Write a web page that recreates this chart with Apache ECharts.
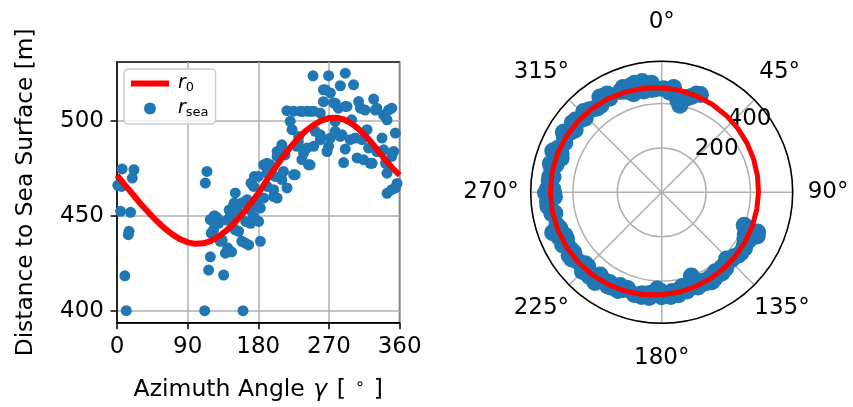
<!DOCTYPE html>
<html>
<head>
<meta charset="utf-8">
<script src="https://cdn.jsdelivr.net/npm/echarts@6/dist/echarts.min.js"></script>
<style>
html,body{margin:0;padding:0;background:#fff;}
#c{width:853px;height:407px;}
</style>
</head>
<body>
<div id="c"></div>
<script>
// ---- data ----
// sea-surface distance samples: azimuth angle (deg) and distance (m)
const seaAzimuth = [
  1, 4.6, 5.9, 6.5, 10, 11.8, 14.4, 15.3, 17.3, 19.5, 21.6,
  111.7, 112.5, 114.6, 116.7, 118.9, 121, 118.8, 127.3, 123, 129.5, 131.6, 134, 135.8, 138, 140, 141, 144.4, 146, 124, 124, 120, 143, 149.5,
  150.7, 153, 155, 155, 159, 159, 160.5, 163.4, 165.6, 167.7, 170, 170, 170.7, 174, 174, 175, 178.4, 180.4, 182.6, 180, 182.6, 186.8, 186.8, 191, 191, 191, 195, 199.5, 199.5, 148.6, 144, 150.7, 164,
  201.6, 204, 204, 204, 208, 210, 210, 212, 214, 216.5, 216.6, 220.7, 223, 225, 225, 227, 229, 231, 231.4, 233.5, 235.6, 235.7, 237.7, 242, 242, 244, 246, 246.3, 249.7, 250.5, 250.5, 252.6, 259, 259, 259,
  263, 263, 265.4, 267.5, 269.6, 269.6, 271.7, 271.8, 276, 278, 278, 278, 282, 284.5, 284.5, 286.6, 288.7, 290.8, 290.8, 290.8, 293, 297, 299,
  301.4, 303.6, 305.8, 307.8, 310, 312, 314, 316, 318.5, 320.5, 322.7, 325, 327, 329, 331, 331, 337.6, 339.7, 339.7, 342, 344, 344, 344, 346, 350, 350, 350, 352.4, 354.6, 354.6, 356.7
];
const seaDistance = [
  466, 452.3, 465.4, 474.6, 418.4, 400, 440, 441.8, 451.8, 469.8, 474.2,
  400, 467.2, 473.3, 421.4, 428.4, 440.7, 448, 449, 442.6, 446, 436.5, 437.2, 418.8, 430.3, 447.7, 433, 451.4, 431, 450, 446, 440.8, 453, 456.7,
  462, 455, 451.4, 441.8, 456.7, 436.5, 400, 435.6, 458.4, 434.6, 453, 446, 467.2, 449.6, 465.4, 470.7, 456.7, 447, 436.5, 470.7, 454, 459.3, 476.8, 465.4, 472.4, 477.6, 476.8, 460.1, 463.7, 455.8, 448, 442.6, 447,
  470.7, 481.2, 483.8, 459.3, 484.7, 487.3, 469, 473.3, 482, 505.3, 464.6, 499.7, 495.3, 471.6, 505, 471.6, 486.5, 489, 491.7, 505, 479.5, 504.9, 483, 485.6, 505, 476.8, 476.8, 504.9, 523.6, 486.5, 505, 494.4, 504, 490, 492.6,
  516.3, 510, 516.3, 483.8, 523.7, 486.5, 490.8, 514.6, 509.3, 499.6, 494.4, 509.2, 506.6, 518.4, 491.7, 492.6, 478, 525, 507.5, 485.1, 507.5, 490, 500.5,
  518.9, 490.9, 480.4, 510.1, 506.6, 490, 479.5, 505.6, 495.3, 485.6, 477.6, 477.6, 511.4, 505.6, 483.8, 506.6, 490.9, 503, 484.7, 477.6, 472.4, 461.8, 500.5, 505.6, 506.6, 481.2, 463.7, 483.8, 493.5, 464.6, 467
];
// fitted r0 curve read at every 10 degrees
const curveAzimuth = [0,10,20,30,40,50,60,70,80,90,100,110,120,130,140,150,160,170,180,190,200,210,220,230,240,250,260,270,280,290,300,310,320,330,340,350,360];
const curveR0 = [471.3,466.2,461.3,456.3,451.8,447.5,443.6,440.3,437.7,436,435.2,435.5,436.8,439.2,442.4,446.4,451,456.3,461.8,468.2,474.3,480.2,485.6,490.4,494.5,497.6,500,501.4,501.6,500.5,498.2,494.8,490.6,485.6,480.3,475.5,471.3];
// tick labels
const xTicks = [0, 90, 180, 270, 360];
const yTicks = [400, 450, 500];
const radialLabels = [200, 400];

const FONT = 'DejaVu Sans';
const GRID = '#b0b0b0';
const BLUE = '#1f77b4';
const RED = '#ff0000';

const seaPairs = seaAzimuth.map((g, i) => [g, seaDistance[i]]);
const seaPolar = seaAzimuth.map((g, i) => [seaDistance[i], g]);
const curvePairs = curveAzimuth.map((g, i) => [g, curveR0[i]]);
const curvePolar = curveAzimuth.map((g, i) => [curveR0[i], g]);

const chart = echarts.init(document.getElementById('c'), null, {renderer: 'canvas'});
const polarCenter = [661.7, 192.3];
const polarR = 131;
const rayAng = 42.2 * Math.PI / 180;
const shift = 27;
const polar2Center = [polarCenter[0] + shift * Math.cos(rayAng) + 2, polarCenter[1] - shift * Math.sin(rayAng) + 5];

// per-label padding so that the angle labels sit centred on a ring like matplotlib
const angRich = {};
const angPad = {0: [0,0,28,0], 45: [0,0,16,5], 90: [0,0,0,15], 135: [12,0,0,0], 180: [23,0,0,0], 225: [12,0,0,0], 270: [0,12,0,0], 315: [0,0,16,0]};
Object.keys(angPad).forEach(k => {
  angRich['p' + k] = {fontSize: 23, fontFamily: FONT, color: '#000', padding: angPad[k]};
});

chart.setOption({
  animation: false,
  textStyle: {fontFamily: FONT},
  grid: {left: 117, top: 62, width: 282.6, height: 260.7, show: true, borderColor: '#000', borderWidth: 1.5, containLabel: false},
  legend: {
    orient: 'vertical', left: 124, top: 69,
    itemWidth: 38, itemHeight: 12, itemGap: 5,
    padding: [5, 7, 5, 4],
    borderColor: '#cccccc', borderWidth: 1.5, borderRadius: 4,
    backgroundColor: 'rgba(255,255,255,0.8)',
    data: [
      {name: 'r0', itemStyle: {color: 'rgba(0,0,0,0)', borderColor: 'rgba(0,0,0,0)', borderWidth: 0}, lineStyle: {color: RED, width: 6}},
      {name: 'rsea'}
    ],
    formatter: n => n === 'r0' ? '{i|r}{s|0}' : '{i|r}{s|sea}',
    textStyle: {
      fontFamily: FONT, color: '#000', fontSize: 19,
      rich: {
        i: {fontFamily: FONT, fontStyle: 'italic', fontSize: 19, color: '#000', padding: [0, 0, 0, 4]},
        s: {fontFamily: FONT, fontSize: 13, color: '#000', padding: [8, 0, 0, 0]}
      }
    }
  },
  xAxis: {
    type: 'value', min: 0, max: 360, interval: 90,
    axisLine: {lineStyle: {color: '#000', width: 1.5}},
    axisTick: {show: true, inside: false, length: 6.5, lineStyle: {color: '#000', width: 1.5}, customValues: xTicks},
    axisLabel: {color: '#000', fontSize: 23, fontFamily: FONT, margin: 13, customValues: xTicks},
    splitLine: {show: true, lineStyle: {color: GRID, width: 1.5}},
    name: '{a|Azimuth Angle }{g|γ}{a| [}{d|∘}{a|]}',
    nameLocation: 'middle', nameGap: 54,
    nameTextStyle: {
      color: '#000', fontSize: 23.5, fontFamily: FONT,
      rich: {
        a: {fontSize: 23.5, fontFamily: FONT, color: '#000'},
        g: {fontSize: 23.5, fontFamily: FONT, fontStyle: 'italic', color: '#000', padding: [0, 2, 0, 1]},
        d: {fontSize: 16, fontFamily: FONT, color: '#000', padding: [0, 9, 10, 9]}
      }
    }
  },
  yAxis: {
    type: 'value', min: 393.7, max: 530.9, splitNumber: 3,
    axisLine: {lineStyle: {color: '#000', width: 1.5}},
    axisTick: {show: true, inside: false, length: 6.5, lineStyle: {color: '#000', width: 1.5}, customValues: yTicks},
    axisLabel: {color: '#000', fontSize: 23, fontFamily: FONT, margin: 13, customValues: yTicks},
    splitLine: {show: true, lineStyle: {color: GRID, width: 1.5}},
    name: 'Distance to Sea Surface [m]',
    nameLocation: 'middle', nameGap: 80,
    nameTextStyle: {color: '#000', fontSize: 23.3, fontFamily: FONT}
  },
  polar: [
    {center: polarCenter, radius: polarR},
    {center: polar2Center, radius: polarR}
  ],
  angleAxis: [
    {
      polarIndex: 0, type: 'value', min: 0, max: 360, interval: 45, startAngle: 90, clockwise: true,
      axisLine: {lineStyle: {color: '#000', width: 1.5}},
      axisTick: {show: false},
      axisLabel: {color: '#000', fontSize: 23, fontFamily: FONT, margin: 0,
        formatter: v => (angPad[v] ? '{p' + v + '|' + v + '°}' : ''), rich: angRich},
      splitLine: {show: true, lineStyle: {color: GRID, width: 1.5}}
    },
    {
      polarIndex: 1, type: 'value', min: 0, max: 360, startAngle: 42.2, clockwise: true,
      axisLine: {show: false}, axisTick: {show: false}, axisLabel: {show: false}, splitLine: {show: false}
    }
  ],
  radiusAxis: [
    {
      polarIndex: 0, type: 'value', min: 0, max: 590, interval: 200,
      axisLine: {show: false}, axisTick: {show: false}, axisLabel: {show: false},
      splitLine: {show: true, lineStyle: {color: GRID, width: 1.5}}
    },
    {
      polarIndex: 1, type: 'value', min: 0, max: 590, interval: 200,
      axisLine: {show: false}, axisTick: {show: false}, splitLine: {show: false},
      axisLabel: {show: true, color: '#000', fontSize: 23, fontFamily: FONT, margin: 0, align: 'center', verticalAlign: 'middle',
        formatter: v => (radialLabels.indexOf(v) >= 0 ? String(v) : '')}
    }
  ],
  series: [
    {
      name: 'rsea', type: 'scatter', xAxisIndex: 0, yAxisIndex: 0,
      data: seaPairs, symbolSize: 11, itemStyle: {color: BLUE, opacity: 1}, z: 2
    },
    {
      name: 'r0', type: 'line', xAxisIndex: 0, yAxisIndex: 0,
      data: curvePairs, showSymbol: false, symbol: 'none', smooth: false,
      lineStyle: {color: RED, width: 6}, itemStyle: {color: RED}, z: 3
    },
    {
      name: 'rsea', type: 'scatter', coordinateSystem: 'polar', polarIndex: 0,
      data: seaPolar, symbolSize: 17, itemStyle: {color: BLUE, opacity: 1}, z: 2
    },
    {
      name: 'r0', type: 'line', coordinateSystem: 'polar', polarIndex: 0,
      data: curvePolar, showSymbol: false, symbol: 'none', smooth: false,
      lineStyle: {color: RED, width: 5}, itemStyle: {color: RED}, z: 3
    }
  ]
});
</script>
</body>
</html>
